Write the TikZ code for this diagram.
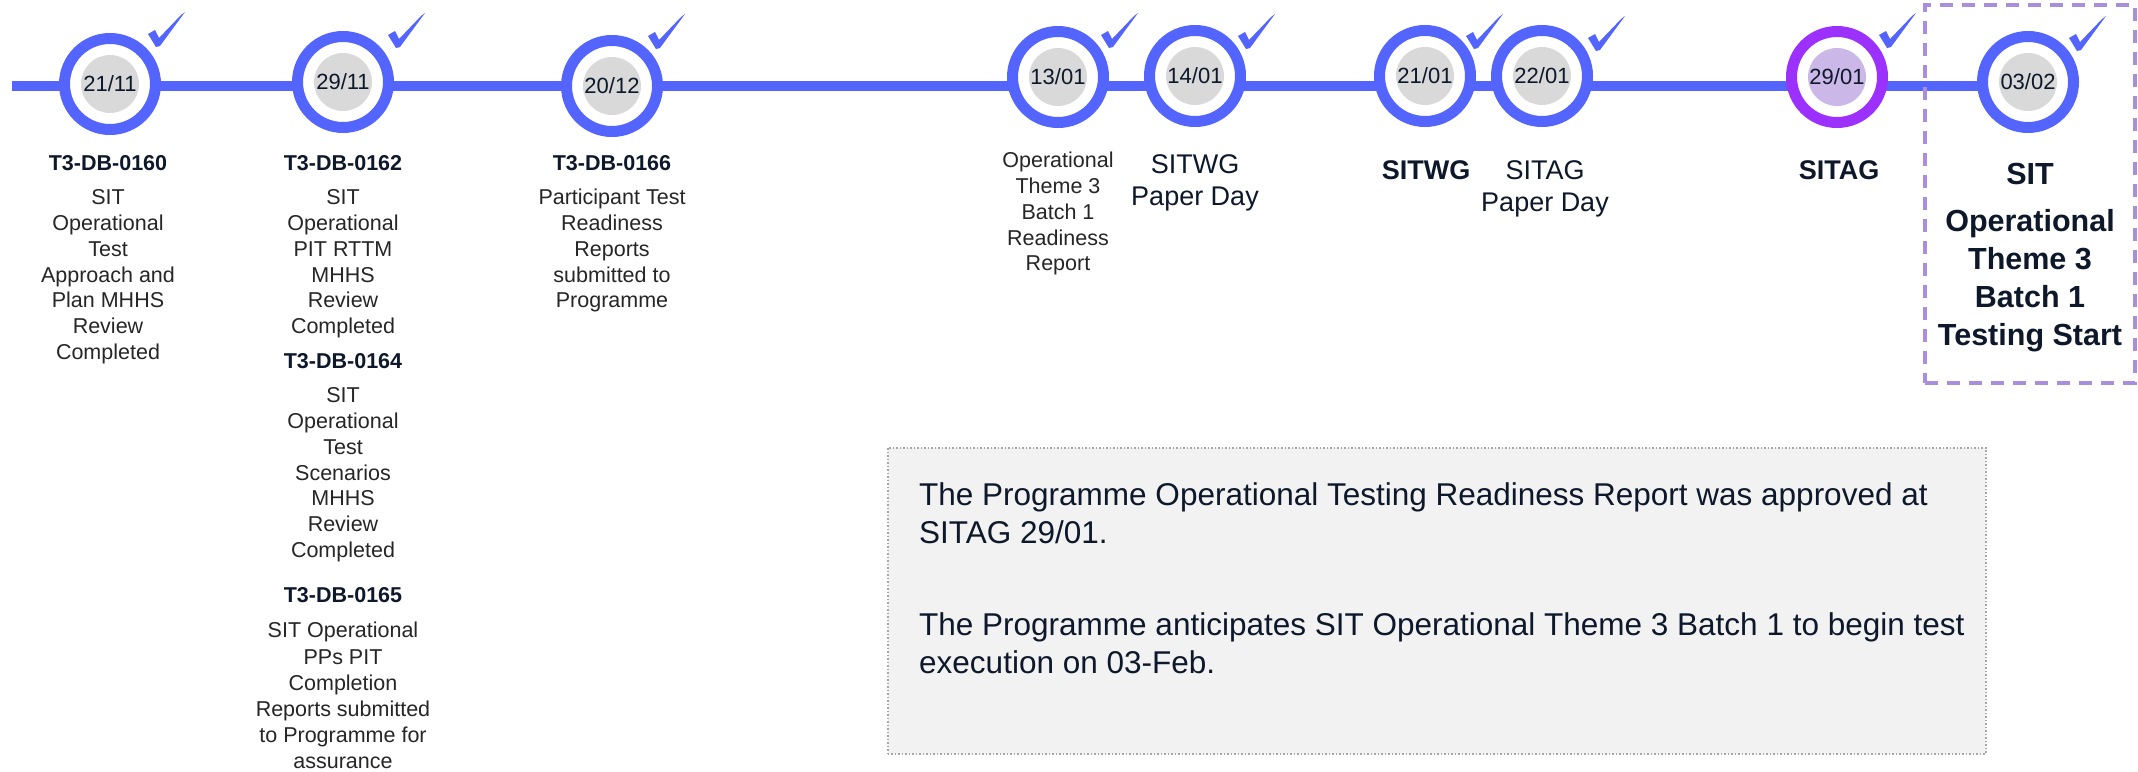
\documentclass[tikz,border=0pt]{standalone}
\usepackage{fontspec}
\setmainfont{Liberation Sans}
\usetikzlibrary{backgrounds}

\definecolor{tlblue}{RGB}{84,101,255}
\definecolor{tlpurple}{RGB}{155,48,255}
\definecolor{lilac}{RGB}{203,184,232}
\definecolor{dategray}{RGB}{217,217,217}
\definecolor{navy}{RGB}{13,24,42}
\definecolor{descgray}{RGB}{38,38,38}
\definecolor{boxfill}{RGB}{242,242,242}
\definecolor{boxline}{RGB}{166,166,166}
\definecolor{hlline}{RGB}{170,142,222}

% strut fixing the top of the first line of a text block
\newcommand\lnstrut{\rule{0pt}{0.8em}}

\tikzset{
  tline/.style={draw=tlblue, line width=10pt},
  ring/.style={circle, draw=tlblue, line width=11pt, fill=white, minimum size=91pt, inner sep=0pt},
  purplering/.style={ring, draw=tlpurple},
  date/.style={circle, fill=dategray, minimum size=58pt, inner sep=0pt, text=navy,
    font=\fontsize{22}{24}\selectfont},
  ttl/.style={anchor=base, inner sep=0pt, text=navy, font=\bfseries\fontsize{21.5}{26}\selectfont},
  desc/.style={anchor=north, inner sep=0pt, align=center, text=descgray,
    font=\fontsize{21.5}{25.7}\selectfont},
  meet/.style={anchor=north, inner sep=0pt, align=center, text=navy},
  note/.style={anchor=north west, inner sep=0pt, align=left, text=navy,
    font=\fontsize{31.5}{38}\selectfont},
  notebox/.style={draw=boxline, fill=boxfill, dotted, line width=1.5pt, anchor=north west,
    minimum width=1098pt, minimum height=306pt, inner sep=0pt},
  hlbox/.style={draw=hlline, line width=3.5pt, dash pattern=on 13pt off 9pt, anchor=north west,
    minimum width=210pt, minimum height=378pt, inner sep=0pt},
  tick/.pic={\fill[tlblue, line join=round] (-9,-12) -- (-2,-16) -- (2,-8) -- (24,-31)
    -- (28,-34) -- (3,0) -- (-1,1) -- cycle;}
}

\begin{document}
\begin{tikzpicture}[x=1pt,y=-1pt]
\useasboundingbox (0,0) rectangle (2138,771);

% highlighted final milestone frame
\node[hlbox] (hl) at (1923,3) {};

% milestones
\node[ring] (r1) at (110,84) {};
\node[date] (d1) at (r1) {21/11};
\node[ring] (r2) at (343,82) {};
\node[date] (d2) at (r2) {29/11};
\node[ring] (r3) at (612,86) {};
\node[date] (d3) at (r3) {20/12};
\node[ring] (r4) at (1058,77) {};
\node[date] (d4) at (r4) {13/01};
\node[ring] (r5) at (1195,76) {};
\node[date] (d5) at (r5) {14/01};
\node[ring] (r6) at (1425,76) {};
\node[date] (d6) at (r6) {21/01};
\node[ring] (r7) at (1542,76) {};
\node[date] (d7) at (r7) {22/01};
\node[purplering] (r8) at (1837,77) {};
\node[date, fill=lilac] (d8) at (r8) {29/01};
\node[ring] (r9) at (2028,82) {};
\node[date] (d9) at (r9) {03/02};

% page background and the timeline behind the milestones
\coordinate (ls) at (12,86);
\begin{scope}[on background layer]
  \fill[white] (0,0) rectangle (2138,771);
  \draw[tline] (ls) -- (r9.center |- ls);
\end{scope}

% completion ticks
\pic at (157,46) {tick};
\pic at (397,47) {tick};
\pic at (657,48) {tick};
\pic at (1110,47) {tick};
\pic at (1247,48) {tick};
\pic at (1475,48) {tick};
\pic at (1597,50) {tick};
\pic at (1888,47) {tick};
\pic at (2078,50) {tick};

% deliverables
\node[ttl] (t1) at (108,170.7) {T3-DB-0160};
\node[desc] (c1) at (108,187.5) {\lnstrut SIT\\Operational\\Test\\Approach and\\Plan MHHS\\Review\\Completed};

\node[ttl] (t2) at (343,170.7) {T3-DB-0162};
\node[desc] (c2) at (343,187.5) {\lnstrut SIT\\Operational\\PIT RTTM\\MHHS\\Review\\Completed};
\node[ttl] (t3) at (343,368.7) {T3-DB-0164};
\node[desc] (c3) at (343,385.5) {\lnstrut SIT\\Operational\\Test\\Scenarios\\MHHS\\Review\\Completed};
\node[ttl] (t4) at (343,602.7) {T3-DB-0165};
\node[desc, font=\fontsize{21.5}{26.2}\selectfont] (c4) at (343,620.5)
  {\lnstrut SIT Operational\\PPs PIT\\Completion\\Reports submitted\\to Programme for\\assurance};

\node[ttl] (t5) at (612,170.7) {T3-DB-0166};
\node[desc] (c5) at (612,187.5) {\lnstrut Participant Test\\Readiness\\Reports\\submitted to\\Programme};

\node[desc] (c6) at (1058,150.5) {\lnstrut Operational\\Theme 3\\Batch 1\\Readiness\\Report};

% governance meetings
\node[meet, font=\fontsize{27}{32}\selectfont] (m1) at (1195,152.1) {\lnstrut SITWG\\Paper Day};
\node[ttl, font=\bfseries\fontsize{27}{30}\selectfont] (m2) at (1426,179.7) {SITWG};
\node[meet, font=\fontsize{27}{32}\selectfont] (m3) at (1545,158.1) {\lnstrut SITAG\\Paper Day};
\node[ttl, font=\bfseries\fontsize{27}{30}\selectfont] (m4) at (1839,179.7) {SITAG};

% testing start
\node[ttl, font=\bfseries\fontsize{30.5}{34}\selectfont] (s1) at (2030,184) {SIT};
\node[meet, font=\bfseries\fontsize{30.5}{38}\selectfont] (s2) at (2030,206.6)
  {\lnstrut Operational\\Theme 3\\Batch 1\\Testing Start};

% status note
\node[notebox] (nb) at (887,447) {};
\node[note] (n1) at (919,479.8) {\lnstrut The Programme Operational Testing Readiness Report was approved at\\SITAG 29/01.};
\node[note] (n2) at (919,609.8) {\lnstrut The Programme anticipates SIT Operational Theme 3 Batch 1 to begin test\\execution on 03-Feb.};
\end{tikzpicture}
\end{document}
